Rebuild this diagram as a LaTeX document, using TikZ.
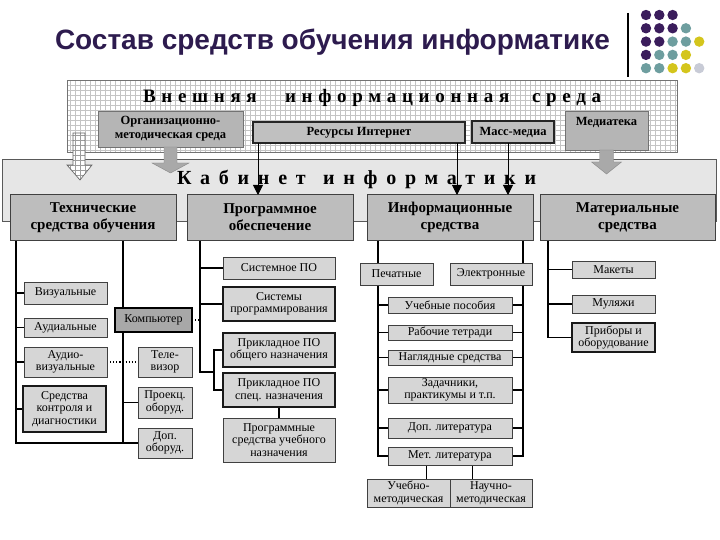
\documentclass[tikz,border=0pt]{standalone}
\usepackage{fontspec}
\setmainfont{Liberation Serif}
\newfontfamily\titlefont{Liberation Sans}
\usetikzlibrary{arrows.meta,calc}
\definecolor{titlec}{HTML}{2D1B4E}
\definecolor{dotP}{HTML}{3B1D5C}
\definecolor{dotT}{HTML}{6E9E9F}
\definecolor{dotY}{HTML}{D4C51C}
\definecolor{dotG}{HTML}{C8CBD6}
\definecolor{boxfill}{HTML}{D6D6D6}
\definecolor{hdrfill}{HTML}{BDBDBD}
\definecolor{topfill}{HTML}{B5B5B5}
\definecolor{resfill}{HTML}{C0C0C0}
\definecolor{bandc}{HTML}{E6E6E6}
\definecolor{garrowc}{HTML}{A9A9A9}
\definecolor{compfill}{HTML}{A8A8A8}
\definecolor{gridc}{HTML}{C4C4C4}
\pgfdeclarelayer{back}
\pgfdeclarelayer{bg}
\pgfsetlayers{back,bg,main}
\begin{document}
\begin{tikzpicture}[x=1pt,y=-1pt,
 every node/.style={inner sep=0pt, outer sep=0pt},
 rect/.style n args={4}{minimum width={(#3)-(#1)}, minimum height={(#4)-(#2)}, at={({((#1)+(#3))/2},{((#2)+(#4))/2})}},
 box/.style={draw=black!75, fill=boxfill, line width=0.8pt, align=center, font=\fontsize{12}{12.5}\selectfont},
 darkbox/.style={box, draw=black!90, line width=1.1pt},
 hdr/.style={draw=black!75, fill=hdrfill, line width=1pt, align=center, font=\bfseries\fontsize{15}{17}\selectfont},
 topbox/.style={draw=black!55, fill=topfill, line width=0.6pt, align=center, font=\bfseries\fontsize{12.5}{14}\selectfont},
 conn/.style={line width=1.2pt, draw=black},
 dconn/.style={line width=1.1pt, dotted, draw=black},
 blk/.style={line width=0.9pt, -{Triangle[length=10pt,width=10pt]}},
 garrow/.style={fill=garrowc, draw=garrowc!80!black, line width=0.4pt},
 wordA/.style={anchor=base west, font=\bfseries\fontsize{19}{20}\selectfont\addfontfeature{LetterSpace=30}},
 wordB/.style={anchor=base west, font=\bfseries\fontsize{20}{22}\selectfont\addfontfeature{LetterSpace=44}}
]
\useasboundingbox (0,0) rectangle (720,540);

% title and logo
\node[anchor=base west, text=titlec, font=\titlefont\bfseries\fontsize{28}{30}\selectfont] (title) at (55,50) {Состав средств обучения информатике};
\coordinate (vt) at (628,13);
\coordinate (vb) at (628,77);
\draw[line width=1.3pt] (vt) -- (vb);
\foreach \c/\i/\j in {P/0/0,P/1/0,P/2/0,
  P/0/1,P/1/1,P/2/1,T/3/1,
  P/0/2,P/1/2,T/2/2,T/3/2,Y/4/2,
  P/0/3,T/1/3,T/2/3,Y/3/3,
  T/0/4,T/1/4,Y/2/4,Y/3/4,G/4/4}
  \fill[dot\c] ({646+13.3*\i},{15+13.3*\j}) circle[radius=5.2pt];

% outer environment (grid)
\begin{pgfonlayer}{back}
\fill[white] (67,80) rectangle (677,152);
\draw[gridc, line width=0.35pt] (67,80) grid[step=5pt] (677,152);
\draw[black!55, line width=0.6pt] (67,80) rectangle (677,152);
\node[rect={2}{160}{716}{222}, fill=bandc, draw=black!65, line width=1pt] (band) {};
\end{pgfonlayer}

\node[wordA] (w1) at (143,103) {Внешняя};
\node[wordA] (w2) at (285,103) {информационная};
\node[wordA] (w3) at (532,103) {среда};

\node[topbox, rect={98}{111}{243}{147}] (org) {Организационно-\\методическая среда};
\node[topbox, fill=resfill, draw=black!85, line width=1.4pt, rect={253}{122}{465}{143}] (res) {Ресурсы Интернет};
\node[topbox, fill=resfill, draw=black!85, line width=1.6pt, rect={472}{121}{554}{143}] (mm) {Масс-медиа};
\node[topbox, rect={565}{111}{648}{150}] (med) {};
\node[font=\bfseries\fontsize{12.5}{14}\selectfont] (medt) at ($(med.north)+(0,11)$) {Медиатека};

% block arrows
\filldraw[garrow] ($(org.south)+(-6.5,0)$) -- ++(0,16) -- ++(-12,0) -- ++(18.5,10) -- ++(18.5,-10) -- ++(-12,0) -- ++(0,-16) -- cycle;
\filldraw[garrow] ($(med.south)+(-7,0)$) -- ++(0,12) -- ++(-8,0) -- ++(15,12) -- ++(15,-12) -- ++(-8,0) -- ++(0,-12) -- cycle;
\begin{scope}
\clip (73,133) -- (73,165) -- (67,165) -- (80,180) -- (92,165) -- (85,165) -- (85,133) -- cycle;
\fill[white] (60,130) rectangle (100,185);
\draw[gridc!80!black, line width=0.35pt] (60,130) grid[step=5pt] (100,185);
\end{scope}
\draw[black!60, line width=0.7pt] (73,133) -- (73,165) -- (67,165) -- (80,180) -- (92,165) -- (85,165) -- (85,133) -- cycle;

\node[wordB] (k1) at (177,185) {Кабинет};
\node[wordB] (k2) at (323,185) {информатики};

% headers
\node[hdr, rect={10}{195}{176}{240}] (hdr1) {Технические\\средства обучения};
\node[hdr, rect={187}{195}{353}{240}] (hdr2) {Программное\\обеспечение};
\node[hdr, rect={367}{195}{533}{240}] (hdr3) {Информационные\\средства};
\node[hdr, rect={540}{195}{715}{240}] (hdr4) {Материальные\\средства};

% black arrows
\coordinate (r1) at ($(res.south west)+(5,0)$);
\coordinate (r2) at ($(res.south east)+(-8,0)$);
\coordinate (m0) at ($(mm.south)+(-5,0)$);
\draw[blk] (r1) -- (r1 |- hdr2.north);
\draw[blk] (r2) -- (r2 |- hdr3.north);
\draw[blk] (m0) -- (m0 |- hdr3.north);

% column 1
\node[box, rect={24}{282}{107}{304}] (vis) {Визуальные};
\node[box, rect={24}{318}{107}{337}] (aud) {Аудиальные};
\node[box, rect={24}{347}{107}{377}] (av) {Аудио-\\визуальные};
\node[darkbox, rect={23}{386}{106}{432}] (ctrl) {Средства\\контроля и\\диагностики};
\node[box, fill=compfill, draw=black, line width=2.2pt, rect={115}{308}{192}{332}] (comp) {Компьютер};
\node[box, rect={138}{347}{192}{377}] (tv) {Теле-\\визор};
\node[box, rect={138}{387}{192}{418}] (proj) {Проекц.\\оборуд.};
\node[box, rect={138}{428}{192}{458}] (dop) {Доп.\\оборуд.};
\coordinate (c1L) at (16,240);
\coordinate (c1R) at (123,240);

% column 2
\node[box, rect={223}{257}{335}{279}] (sys) {Системное ПО};
\node[darkbox, rect={223}{287}{335}{321}] (sysprog) {Системы\\программирования};
\node[darkbox, rect={223}{333}{335}{367}] (appg) {Прикладное ПО\\общего назначения};
\node[darkbox, rect={223}{373}{335}{407}] (apps) {Прикладное ПО\\спец. назначения};
\node[box, rect={223}{418}{335}{462}] (edu) {Программные\\средства учебного\\назначения};
\coordinate (c2) at (200,240);
\coordinate (brk) at (214,372);

% column 3
\node[box, rect={360}{263}{433}{285}] (pech) {Печатные};
\node[box, rect={450}{263}{532}{285}] (el) {Электронные};
\node[box, rect={388}{297}{512}{313}] (ucheb) {Учебные пособия};
\node[box, rect={388}{325}{512}{340}] (rab) {Рабочие тетради};
\node[box, rect={388}{350}{512}{365}] (nagl) {Наглядные средства};
\node[box, rect={388}{377}{512}{403}] (zad) {Задачники,\\практикумы и т.п.};
\node[box, rect={388}{418}{512}{438}] (doplit) {Доп. литература};
\node[box, rect={388}{447}{512}{465}] (met) {Мет. литература};
\node[box, rect={367}{479}{450}{507}] (um) {Учебно-\\методическая};
\node[box, rect={450}{479}{532}{507}] (nm) {Научно-\\методическая};
\coordinate (c3L) at (378,240);
\coordinate (c3R) at (523,240);
\coordinate (m1) at ($(met.south west)!0.31!(met.south east)$);
\coordinate (m2) at ($(met.south west)!0.68!(met.south east)$);

% column 4
\node[box, rect={572}{261}{655}{278}] (mak) {Макеты};
\node[box, rect={572}{295}{655}{313}] (mul) {Муляжи};
\node[darkbox, rect={572}{323}{655}{352}] (prib) {Приборы и\\оборудование};
\coordinate (c4) at (548,240);

% connectors
\begin{pgfonlayer}{bg}
\draw[conn] (c1L) |- (dop.west);
\draw[conn] (c1R) -- (c1R |- dop.west);
\foreach \n in {vis,aud,av,ctrl} \draw[conn] (c1L |- \n.west) -- (\n.west);
\draw[conn] (c1R |- proj.west) -- (proj.west);
\draw[dconn] (av.east) -- (tv.west);
\draw[dconn] (comp.east) -- (c2 |- comp.east);

\draw[conn] (c2) |- (brk);
\draw[conn] (appg.west) -| (brk) |- (apps.west);
\draw[conn] (c2 |- sys.west) -- (sys.west);
\draw[conn] (c2 |- sysprog.west) -- (sysprog.west);
\draw[conn] (apps.south) -- (edu.north);

\draw[conn] (c3L) -- (c3L |- pech.north);
\draw[conn] (c3R) -- (c3R |- el.north);
\draw[conn] (c3L |- pech.south) |- (met.west);
\draw[conn] (c3R |- el.south) |- (met.east);
\foreach \n in {ucheb,rab,nagl,zad,doplit} {
  \draw[conn] (c3L |- \n.west) -- (\n.west);
  \draw[conn] (\n.east) -- (c3R |- \n.east);
}
\draw[conn] (m1) -- (m1 |- um.north);
\draw[conn] (m2) -- (m2 |- nm.north);

\draw[conn] (c4) |- (prib.west);
\draw[conn] (c4 |- mak.west) -- (mak.west);
\draw[conn] (c4 |- mul.west) -- (mul.west);
\end{pgfonlayer}
\end{tikzpicture}
\end{document}
